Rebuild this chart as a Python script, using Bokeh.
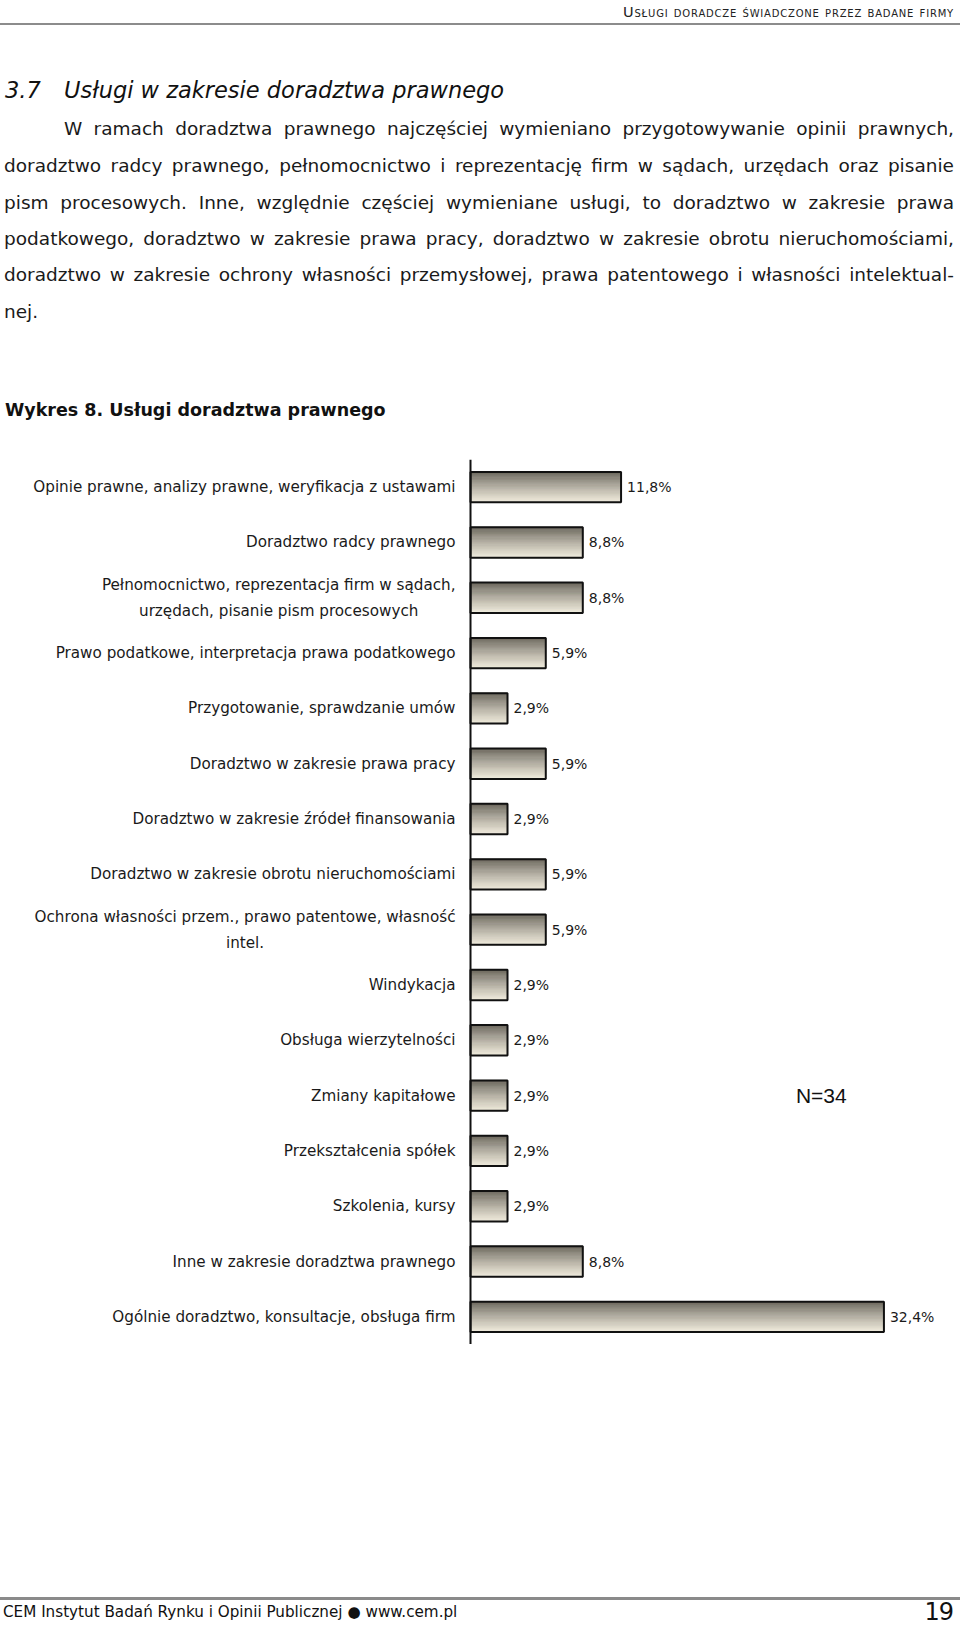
from bokeh.plotting import figure
from bokeh.models import Div, Span, ColumnDataSource, Range1d, FactorRange
from bokeh.layouts import column
from bokeh.transform import dodge
from bokeh.core.properties import value
from bokeh.embed import file_html
from bokeh.resources import INLINE

# ---------------- data ----------------
categories = [
    "Opinie prawne, analizy prawne, weryfikacja z ustawami",
    "Doradztwo radcy prawnego",
    "Pełnomocnictwo, reprezentacja firm w sądach,\nurzędach, pisanie pism procesowych",
    "Prawo podatkowe, interpretacja prawa podatkowego",
    "Przygotowanie, sprawdzanie umów",
    "Doradztwo w zakresie prawa pracy",
    "Doradztwo w zakresie źródeł finansowania",
    "Doradztwo w zakresie obrotu nieruchomościami",
    "Ochrona własności przem., prawo patentowe, własność\nintel.",
    "Windykacja",
    "Obsługa wierzytelności",
    "Zmiany kapitałowe",
    "Przekształcenia spółek",
    "Szkolenia, kursy",
    "Inne w zakresie doradztwa prawnego",
    "Ogólnie doradztwo, konsultacje, obsługa firm",
]
values = [11.8, 8.8, 8.8, 5.9, 2.9, 5.9, 2.9, 5.9, 5.9, 2.9, 2.9, 2.9, 2.9, 2.9, 8.8, 32.4]
value_labels = [f"{v:.1f}".replace(".", ",") + "%" for v in values]
sample_text = "N=34"
sample_row = "Zmiany kapitałowe"

header_text = "Usługi doradcze świadczone przez badane firmy"
section_no = "3.7"
section_title = "Usługi w zakresie doradztwa prawnego"
paragraph_lines = [
    "W ramach doradztwa prawnego najczęściej wymieniano przygotowywanie opinii prawnych,",
    "doradztwo radcy prawnego, pełnomocnictwo i reprezentację firm w sądach, urzędach oraz pisanie",
    "pism procesowych. Inne, względnie częściej wymieniane usługi, to doradztwo w zakresie prawa",
    "podatkowego, doradztwo w zakresie prawa pracy, doradztwo w zakresie obrotu nieruchomościami,",
    "doradztwo w zakresie ochrony własności przemysłowej, prawa patentowego i własności intelektual-",
    "nej.",
]
chart_title = "Wykres 8. Usługi doradztwa prawnego"
footer_text = "CEM Instytut Badań Rynku i Opinii Publicznej ● www.cem.pl"
page_number = "19"

# ---------------- page top (HTML text) ----------------
FONT = "'DejaVu Sans', sans-serif"
PAGE_W = 960


def box(top, left, width, height, text, size, extra=""):
    return (
        f'<div style="position:absolute;left:{left}px;top:{top}px;width:{width}px;'
        f'height:{height}px;line-height:{height}px;font-family:{FONT};font-size:{size}px;'
        f'color:#111;white-space:nowrap;{extra}">{text}</div>'
    )


TOP_H = 459
parts = []
parts.append(box(3.5, 0, 954, 16, header_text, 14.5,
                 "text-align:right;font-variant:small-caps;letter-spacing:0.8px;color:#222;"))
parts.append(f'<div style="position:absolute;left:0px;top:23px;width:{PAGE_W}px;height:2px;background:#8c8c8c;"></div>')
parts.append(box(76, 5, 60, 28, section_no, 22.5, "font-style:italic;"))
parts.append(box(76, 64, 800, 28, section_title, 22.5, "font-style:italic;"))
para_centers = [129.4, 165.6, 202.9, 239.1, 275.3, 311.5]
for i, (txt, c) in enumerate(zip(paragraph_lines, para_centers)):
    last = i == len(paragraph_lines) - 1
    left = 64 if i == 0 else 4
    width = 954 - left
    just = "text-align:left;" if last else "text-align:justify;text-align-last:justify;"
    parts.append(box(c - 13, left, width, 26, txt, 18.5, just + "color:#1a1a1a;"))
parts.append(box(398, 5, 700, 24, chart_title, 17.5, "font-weight:bold;"))

top_html = f'<div style="position:relative;width:{PAGE_W}px;height:{TOP_H}px;">' + "".join(parts) + "</div>"
top_div = Div(text=top_html, width=PAGE_W, height=TOP_H, margin=0, styles={"overflow": "visible"})

# ---------------- chart ----------------
PX_PER_UNIT = 12.76
AXIS_X = 470  # canvas px where value 0 sits
W, H = PAGE_W, 885
x_start = -AXIS_X / PX_PER_UNIT
x_end = (W - AXIS_X) / PX_PER_UNIT

src = ColumnDataSource(dict(cat=categories, val=values, lab=value_labels))

p = figure(
    width=W, height=H,
    y_range=FactorRange(*list(reversed(categories))),
    x_range=Range1d(x_start, x_end),
    x_axis_location=None, y_axis_location=None,
    toolbar_location=None, output_backend="svg",
    min_border=0, min_border_left=0, min_border_right=0, min_border_top=0, min_border_bottom=0,
)
p.margin = 0
p.outline_line_color = None
p.background_fill_color = "white"
p.border_fill_color = "white"
p.xgrid.visible = False
p.ygrid.visible = False

BAR_H = 0.55
N_STRIPS = 26
top_rgb = (104, 100, 90)
bot_rgb = (238, 233, 218)
sh = BAR_H / N_STRIPS
for k in range(N_STRIPS):
    t = k / (N_STRIPS - 1)
    t = t ** 0.85
    rgb = tuple(int(round(a + (b - a) * t)) for a, b in zip(top_rgb, bot_rgb))
    col = "#%02x%02x%02x" % rgb
    off = BAR_H / 2 - sh / 2 - k * sh
    p.hbar(y=dodge("cat", off, range=p.y_range), right="val", left=0, height=sh,
           source=src, fill_color=col, line_color=col, line_width=0.8)

p.hbar(y="cat", right="val", left=0, height=BAR_H, source=src,
       fill_color=None, line_color="#111111", line_width=2)

p.add_layout(Span(location=0, dimension="height", line_color="#111111", line_width=2))

p.text(x="val", y="cat", text="lab", source=src, x_offset=6,
       text_align="left", text_baseline="middle",
       text_font=value("DejaVu Sans"), text_font_size="14px", text_color="#1a1a1a")

p.text(x=0, y="cat", text="cat", source=src, x_offset=-15,
       anchor="center_right", text_align="center", text_baseline="middle",
       text_line_height=1.45,
       text_font=value("DejaVu Sans"), text_font_size="15.2px", text_color="#1a1a1a")

p.text(x=[25.5], y=[sample_row], text=[sample_text],
       text_align="left", text_baseline="middle",
       text_font=value("Liberation Sans"), text_font_size="21px", text_color="#111111")

# ---------------- footer ----------------
FOOT_TOP = TOP_H + H
FOOT_H = 1626 - FOOT_TOP
fparts = []
fparts.append(f'<div style="position:absolute;left:0px;top:{1596.5 - FOOT_TOP}px;width:{PAGE_W}px;height:3px;background:#8a8a8a;"></div>')
fparts.append(box(1612 - 10 - FOOT_TOP, 3, 700, 20, footer_text, 15.2, "color:#111;"))
fparts.append(box(1612 - 13 - FOOT_TOP, 853, 100, 26, page_number, 24, "text-align:right;letter-spacing:-1px;"))
foot_html = f'<div style="position:relative;width:{PAGE_W}px;height:{FOOT_H}px;">' + "".join(fparts) + "</div>"
foot_div = Div(text=foot_html, width=PAGE_W, height=FOOT_H, margin=0, styles={"overflow": "visible"})

layout = column(top_div, p, foot_div, spacing=0)
open("out.html", "w").write(file_html(layout, INLINE))
